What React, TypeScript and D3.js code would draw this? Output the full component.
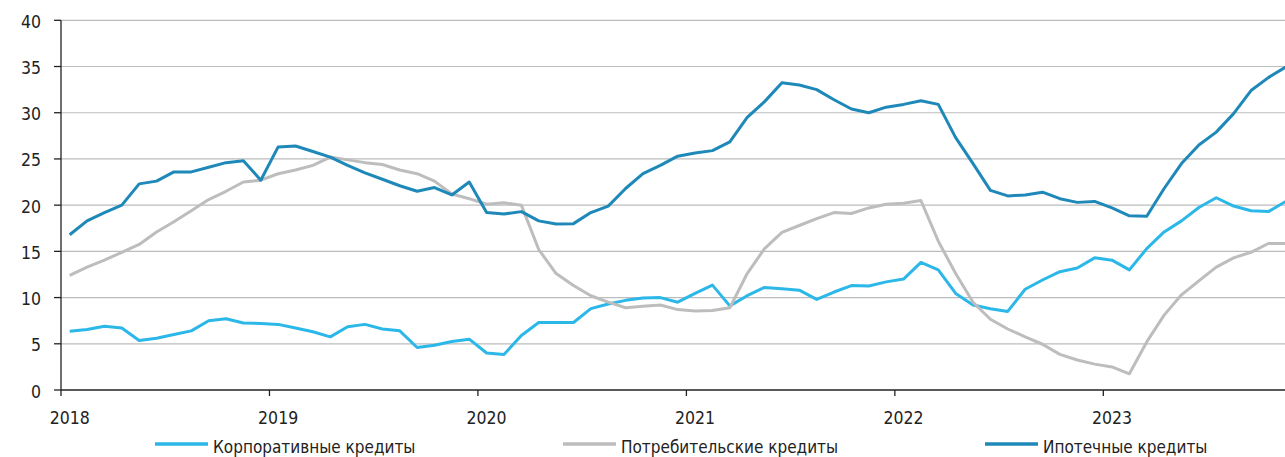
import * as d3 from "d3";

// monthly, Jan 2018 .. Nov 2023
const years = ["2018", "2019", "2020", "2021", "2022", "2023"];
const months = years.flatMap((y) => d3.range(1, 13).map((m) => `${y}-${String(m).padStart(2, "0")}`));

const corporate = [
  6.35, 6.55, 6.9, 6.7, 5.35, 5.6, 6.0, 6.4, 7.5, 7.7, 7.25, 7.2,
  7.1, 6.7, 6.3, 5.75, 6.85, 7.1, 6.6, 6.4, 4.6, 4.85, 5.25, 5.5,
  4.0, 3.85, 5.9, 7.3, 7.3, 7.3, 8.8, 9.3, 9.7, 9.95, 10.0, 9.5,
  10.45, 11.35, 9.1, 10.2, 11.1, 10.95, 10.8, 9.8, 10.6, 11.3, 11.25, 11.7,
  12.0, 13.8, 13.0, 10.45, 9.2, 8.8, 8.5, 10.9, 11.9, 12.8, 13.2, 14.3,
  14.05, 13.0, 15.3, 17.1, 18.3, 19.75, 20.8, 19.9, 19.4, 19.3, 20.4,
];
const consumer = [
  12.4, 13.3, 14.05, 14.9, 15.75, 17.1, 18.2, 19.4, 20.6, 21.5, 22.5, 22.7,
  23.4, 23.8, 24.3, 25.2, 24.9, 24.6, 24.4, 23.8, 23.4, 22.6, 21.2, 20.7,
  20.1, 20.25, 20.0, 15.2, 12.6, 11.3, 10.2, 9.5, 8.9, 9.05, 9.2, 8.7,
  8.55, 8.6, 8.9, 12.6, 15.3, 17.05, 17.8, 18.55, 19.2, 19.1, 19.7, 20.1,
  20.2, 20.5, 16.1, 12.6, 9.5, 7.65, 6.6, 5.75, 4.95, 3.85, 3.25, 2.8,
  2.5, 1.75, 5.2, 8.1, 10.3, 11.8, 13.3, 14.3, 14.9, 15.85, 15.85,
];
const mortgage = [
  16.8, 18.3, 19.2, 20.0, 22.3, 22.6, 23.6, 23.6, 24.1, 24.6, 24.8, 22.7,
  26.3, 26.4, 25.8, 25.2, 24.3, 23.5, 22.8, 22.1, 21.5, 21.9, 21.1, 22.5,
  19.2, 19.05, 19.3, 18.3, 17.95, 18.0, 19.2, 19.9, 21.8, 23.4, 24.3, 25.3,
  25.65, 25.9, 26.85, 29.5, 31.2, 33.25, 33.0, 32.5, 31.4, 30.4, 30.0, 30.6,
  30.9, 31.3, 30.9, 27.3, 24.5, 21.6, 21.0, 21.1, 21.4, 20.7, 20.3, 20.4,
  19.7, 18.85, 18.8, 21.8, 24.5, 26.5, 27.9, 29.9, 32.4, 33.8, 34.95,
];

const yTicks = [0, 5, 10, 15, 20, 25, 30, 35, 40];

const series = [
  { name: "Корпоративные кредиты", values: corporate, color: "#2bb8e8", legendX: 155 },
  { name: "Потребительские кредиты", values: consumer, color: "#bdbdbd", legendX: 563 },
  { name: "Ипотечные кредиты", values: mortgage, color: "#1e88b9", legendX: 985 },
];

const W = 1285;
const H = 457;
const left = 61;
const monthW = 17.372;
const font = "'DejaVu Sans Condensed', 'Liberation Sans Narrow', sans-serif";

export default function App() {
  const x = d3.scaleBand<string>().domain(months).range([left, left + months.length * monthW]);
  const y = d3.scaleLinear().domain([0, 40]).range([390, 20.3]);

  const line = d3
    .line<number>()
    .x((_, i) => (x(months[i]) as number) + x.bandwidth() / 2)
    .y((d) => y(d));

  return (
    <svg width={W} height={H} style={{ position: "absolute", left: 0, top: 0, fontFamily: font }}>
      {yTicks.map((t) => (
        <g key={t}>
          {t > 0 && <line x1={left} x2={W} y1={y(t)} y2={y(t)} stroke="#bcbcbc" strokeWidth={1.2} />}
          <line x1={left - 7} x2={left} y1={y(t)} y2={y(t)} stroke="#222" strokeWidth={1.3} />
          <text x={41} y={y(t) + 7.5} textAnchor="end" fontSize={17.5} fill="#222">
            {t}
          </text>
        </g>
      ))}
      {years.map((yr) => {
        const x0 = x(`${yr}-01`) as number;
        return (
          <g key={yr}>
            <line x1={x0} x2={x0} y1={390} y2={396} stroke="#222" strokeWidth={1.3} />
            <text x={x0 + x.bandwidth() / 2} y={424} textAnchor="middle" fontSize={17.5} fill="#222">
              {yr}
            </text>
          </g>
        );
      })}
      <line x1={left} x2={left} y1={y(40)} y2={390} stroke="#222" strokeWidth={1.3} />
      <line x1={left} x2={W} y1={390} y2={390} stroke="#222" strokeWidth={1.3} />
      {series.map((s) => (
        <path key={s.name} d={line(s.values) ?? ""} fill="none" stroke={s.color} strokeWidth={3} strokeLinejoin="round" />
      ))}
      {series.map((s) => (
        <g key={s.name}>
          <line x1={s.legendX} x2={s.legendX + 53} y1={444} y2={444} stroke={s.color} strokeWidth={3.5} />
          <text x={s.legendX + 58} y={453} fontSize={17} fill="#222">
            {s.name}
          </text>
        </g>
      ))}
    </svg>
  );
}
